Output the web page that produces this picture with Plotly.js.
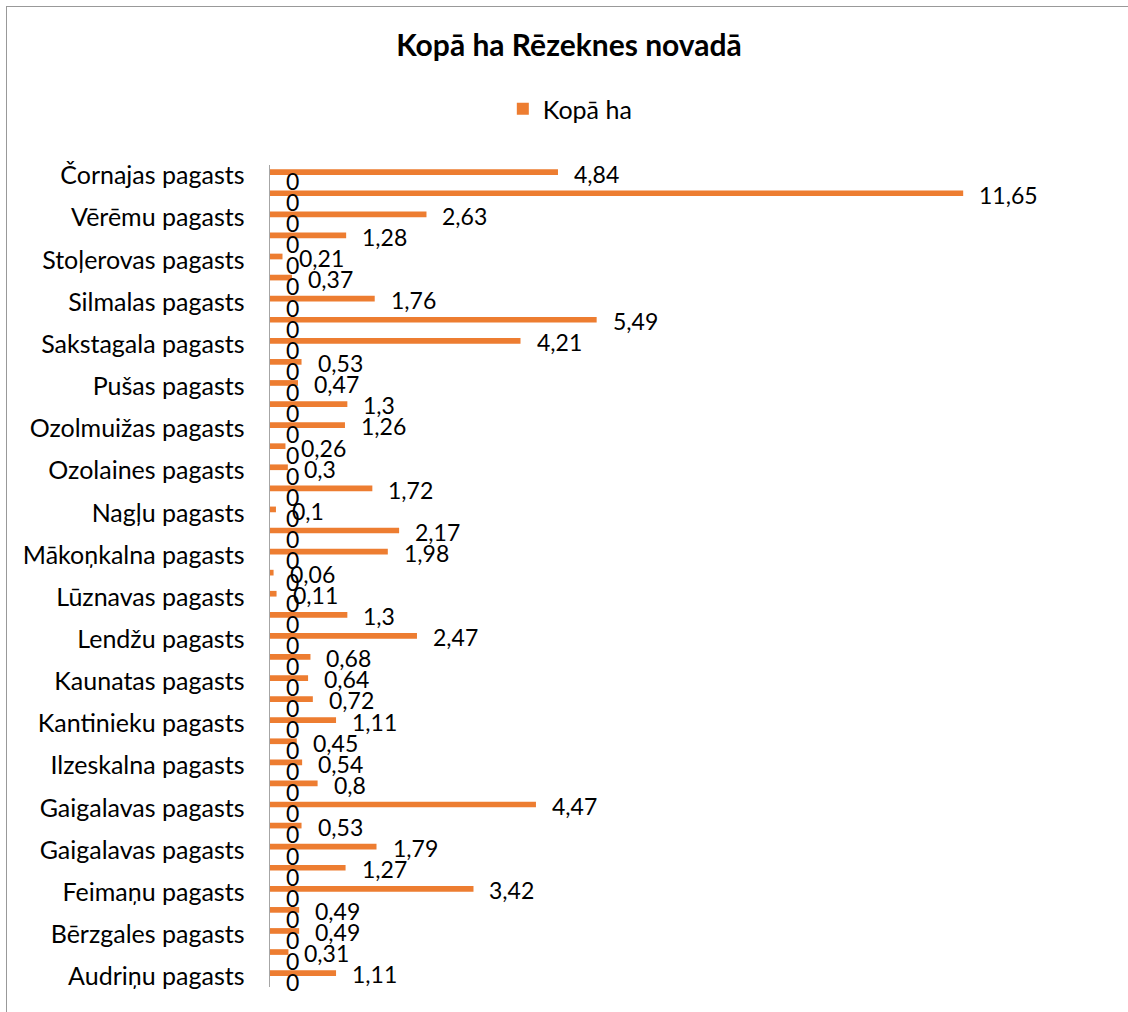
<!DOCTYPE html>
<html><head><meta charset="utf-8">
<script src="https://cdn.plot.ly/plotly-3.0.1.min.js"></script>
<style>
html,body{margin:0;padding:0;background:#fff;overflow:hidden}
#chart{width:1128px;height:1012px}
#frame{position:absolute;left:6px;top:6px;width:1200px;height:1200px;border-left:1.5px solid #999;border-top:1.5px solid #999;pointer-events:none}
</style></head><body>
<div id="chart"></div><div id="frame"></div>
<script>
// rows from bottom (0) to top (38)
const rows = [0,1,2,3,4,5,6,7,8,9,10,11,12,13,14,15,16,17,18,19,20,21,22,23,24,25,26,27,28,29,30,31,32,33,34,35,36,37,38];
const kopaHa = [1.11,0.31,0.49,0.49,3.42,1.27,1.79,0.53,4.47,0.8,0.54,0.45,1.11,0.72,0.64,0.68,2.47,1.3,0.11,0.06,1.98,2.17,0.1,1.72,0.3,0.26,1.26,1.3,0.47,0.53,4.21,5.49,1.76,0.37,0.21,1.28,2.63,11.65,4.84];
const nulle = [0,0,0,0,0,0,0,0,0,0,0,0,0,0,0,0,0,0,0,0,0,0,0,0,0,0,0,0,0,0,0,0,0,0,0,0,0,0,0];
const labelRows = [0,2,4,6,8,10,12,14,16,18,20,22,24,26,28,30,32,34,36,38];
const pagasti = ['Audriņu pagasts','Bērzgales pagasts','Feimaņu pagasts','Gaigalavas pagasts','Gaigalavas pagasts','Ilzeskalna pagasts','Kantinieku pagasts','Kaunatas pagasts','Lendžu pagasts','Lūznavas pagasts','Mākoņkalna pagasts','Nagļu pagasts','Ozolaines pagasts','Ozolmuižas pagasts','Pušas pagasts','Sakstagala pagasts','Silmalas pagasts','Stoļerovas pagasts','Vērēmu pagasts','Čornajas pagasts'];

const FONT = 'Lato, "Open Sans", "Liberation Sans", sans-serif';
const ORANGE = '#ED7D31';
const fmt = v => String(v).replace('.', ',');

const traces = [
  {type:'bar', orientation:'h', name:'0', x:nulle, y:rows, offset:-0.294, width:0.27,
   marker:{color:ORANGE}, showlegend:false, hoverinfo:'skip'},
  {type:'bar', orientation:'h', name:'Kopā ha', x:kopaHa, y:rows, offset:0.024, width:0.27,
   marker:{color:ORANGE}}
];

const labelFont = {family:FONT, size:23, color:'#000'};
const annotations = [];
kopaHa.forEach((v,i)=>annotations.push({x:v, y:rows[i], xref:'x', yref:'y', text:fmt(v), showarrow:false,
  xanchor:'left', yanchor:'middle', xshift:14, yshift:2, font:labelFont}));
nulle.forEach((v,i)=>annotations.push({x:v, y:rows[i], xref:'x', yref:'y', text:fmt(v), showarrow:false,
  xanchor:'left', yanchor:'middle', xshift:14, yshift:-5.5, font:labelFont}));

const layout = {
  width:1128, height:1012,
  margin:{l:270, r:25, t:165, b:25},
  paper_bgcolor:'#fff', plot_bgcolor:'#fff',
  barmode:'overlay',
  font:{family:FONT, color:'#000'},
  title:{text:'Kopā ha Rēzeknes novadā', x:0.5044, xref:'container', xanchor:'center',
         y:0.955, yref:'container', yanchor:'middle',
         font:{family:FONT, size:30, weight:700, color:'#000'}},
  showlegend:true,
  legend:{orientation:'h', x:0.2795, xanchor:'left', y:1.068, yanchor:'middle',
          font:{family:FONT, size:25, color:'#000'}, bgcolor:'rgba(0,0,0,0)'},
  xaxis:{range:[0,14], visible:false, fixedrange:true},
  yaxis:{range:[-0.5,38.5], tickmode:'array', tickvals:labelRows, ticktext:pagasti,
         showline:true, linecolor:'#A6A6A6', linewidth:1.5, showgrid:false, zeroline:false,
         ticks:'', ticklabelstandoff:19, tickfont:{family:FONT, size:25, color:'#000'}, fixedrange:true},
  annotations:annotations
};
Plotly.newPlot('chart', traces, layout, {displayModeBar:false, staticPlot:true});
</script>
</body></html>
